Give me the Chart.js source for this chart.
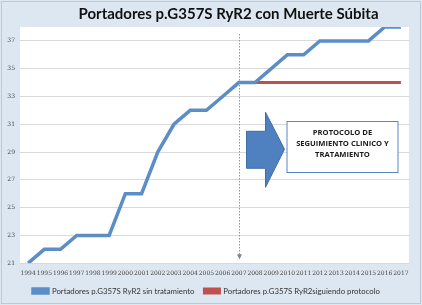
<!DOCTYPE html>
<html><head><meta charset="utf-8">
<script src="https://cdn.jsdelivr.net/npm/chart.js@4/dist/chart.umd.min.js"></script>
<style>html,body{margin:0;padding:0;background:#fff}#wrap{width:422px;height:305px}</style>
</head><body><div id="wrap"><canvas id="c" width="422" height="305"></canvas></div>
<script>
const years = ['1994','1995','1996','1997','1998','1999','2000','2001','2002','2003','2004','2005','2006','2007','2008','2009','2010','2011','2012','2013','2014','2015','2016','2017'];
const sinTratamiento = [21,22,22,23,23,23,26,26,29,31,32,32,33,34,34,35,36,36,37,37,37,37,38,38];
const siguiendoProtocolo = [null,null,null,null,null,null,null,null,null,null,null,null,null,34,34,34,34,34,34,34,34,34,34,34];
const yTicks = [21,23,25,27,29,31,33,35,37];
const titleText = 'Portadores p.G357S RyR2 con Muerte Súbita';
const seriesLabels = ['Portadores p.G357S RyR2 sin tratamiento','Portadores p.G357S RyR2siguiendo protocolo'];
const boxLines = ['PROTOCOLO DE','SEGUIMIENTO CLINICO Y','TRATAMIENTO'];
const protocolYear = '2007';

const bgPlugin = {
  id:'bg',
  afterLayout(chart){
    if (chart.titleBlock){ chart.titleBlock.left += 22; chart.titleBlock.right += 22; }
  },
  beforeDraw(chart){
    const {ctx, chartArea:a, width, height} = chart;
    ctx.save();
    ctx.fillStyle = '#dde7f1';
    ctx.fillRect(0,0,width,height);
    ctx.strokeStyle = '#b9c9da';
    ctx.lineWidth = 1;
    ctx.strokeRect(1.5,1.5,width-3,height-3);
    ctx.fillStyle = '#ffffff';
    ctx.fillRect(a.left, a.top, a.right-a.left, a.bottom-a.top);
    ctx.restore();
  }
};

const annoPlugin = {
  id:'anno',
  afterDatasetsDraw(chart){
    const {ctx, chartArea:a} = chart;
    const xs = chart.scales.x, ys = chart.scales.y;
    const x0 = Math.round(xs.getPixelForValue(years.indexOf(protocolYear)))+0.5;
    ctx.save();
    ctx.strokeStyle = '#8497b0';
    ctx.lineWidth = 1;
    ctx.setLineDash([1.5,1.5]);
    ctx.beginPath();
    ctx.moveTo(x0, a.top+7);
    ctx.lineTo(x0, a.bottom-7);
    ctx.stroke();
    ctx.setLineDash([]);
    ctx.fillStyle = '#6f84a0';
    ctx.beginPath();
    ctx.moveTo(x0-2.5, a.bottom-9);
    ctx.lineTo(x0+2.5, a.bottom-9);
    ctx.lineTo(x0, a.bottom-4);
    ctx.closePath();
    ctx.fill();
    // block arrow
    const yc = ys.getPixelForValue(29.2);
    const sx = x0+7, hx = x0+26, tx = x0+45;
    ctx.fillStyle = '#4f81c0';
    ctx.strokeStyle = '#3f6da5';
    ctx.beginPath();
    ctx.moveTo(sx, yc-18);
    ctx.lineTo(hx, yc-18);
    ctx.lineTo(hx, yc-37);
    ctx.lineTo(tx, yc);
    ctx.lineTo(hx, yc+38);
    ctx.lineTo(hx, yc+19);
    ctx.lineTo(sx, yc+19);
    ctx.closePath();
    ctx.fill();
    ctx.stroke();
    // text box
    const bx = x0+47.5, by = Math.round(yc-28)+0.5, bw = 111, bh = 51;
    ctx.fillStyle = '#ffffff';
    ctx.fillRect(bx,by,bw,bh);
    ctx.strokeStyle = '#5b86bd';
    ctx.strokeRect(bx,by,bw,bh);
    ctx.fillStyle = '#1a1a1a';
    ctx.font = 'bold 7.6px "Open Sans", sans-serif';
    ctx.textAlign = 'center';
    ctx.textBaseline = 'middle';
    boxLines.forEach((t,i)=>ctx.fillText(t, bx+bw/2, by+11+i*11));
    ctx.restore();
  }
};

new Chart(document.getElementById('c'), {
  type:'line',
  data:{
    labels: years,
    datasets:[
      {label: seriesLabels[0], data: sinTratamiento, borderColor:'#5b8ec6', backgroundColor:'#5b8ec6', borderWidth:3.5, pointRadius:0, tension:0},
      {label: seriesLabels[1], data: siguiendoProtocolo, borderColor:'#c0504d', backgroundColor:'#c0504d', borderWidth:3, pointRadius:0, tension:0}
    ]
  },
  options:{
    responsive:false,
    animation:false,
    devicePixelRatio:1,
    layout:{padding:{left:4,right:13,top:0,bottom:0}},
    plugins:{
      title:{display:true, text:titleText, color:'#111', font:{family:'Lato, sans-serif', size:15, weight:'bold'}, padding:{top:5,bottom:4}},
      legend:{position:'bottom', labels:{boxWidth:15, boxHeight:4, color:'#333', font:{family:'Lato, sans-serif', size:7.8}, padding:10}},
      tooltip:{enabled:false}
    },
    scales:{
      x:{
        offset:true,
        afterFit(s){ s.height = 14; },
        grid:{display:false, drawTicks:false},
        border:{display:false},
        ticks:{color:'#444', font:{family:'"DejaVu Serif", serif', size:6}, maxRotation:0, autoSkip:false, padding:7}
      },
      y:{
        min:21, max:38,
        afterBuildTicks(s){ s.ticks = yTicks.map(v=>({value:v})); },
        afterFit(s){ s.width = 16; },
        grid:{color:'#d9d9d9', drawTicks:false},
        border:{display:false},
        ticks:{color:'#444', font:{family:'"DejaVu Serif", serif', size:6}, padding:5}
      }
    }
  },
  plugins:[bgPlugin, annoPlugin]
});
</script></body></html>
